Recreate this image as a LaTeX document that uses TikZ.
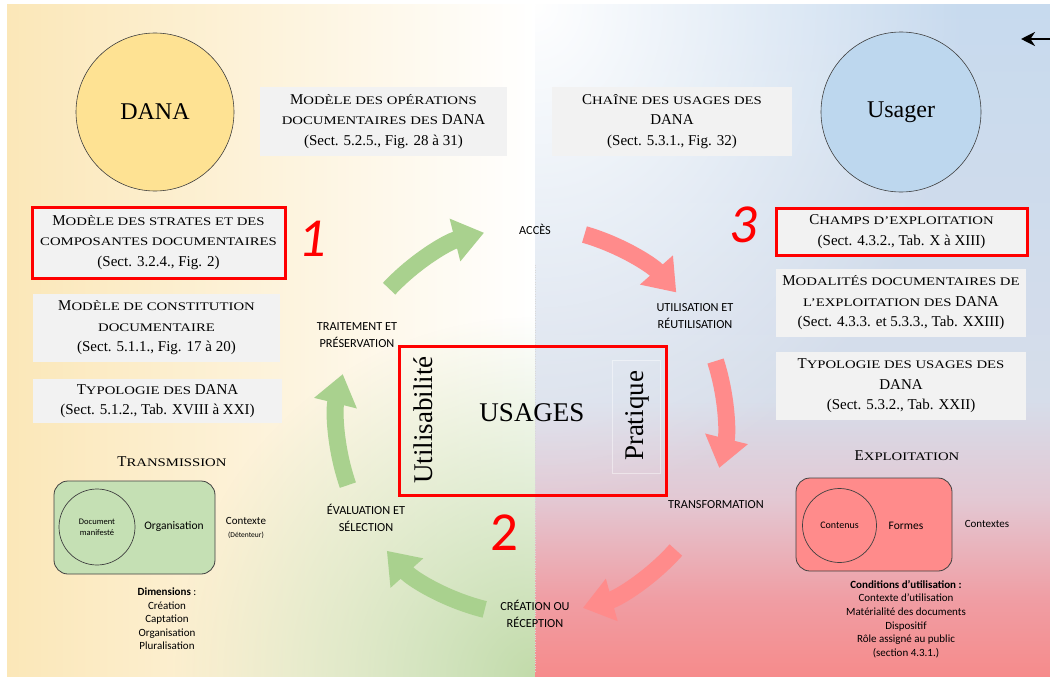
\documentclass[tikz,border=0pt]{standalone}
\usepackage{fontspec}
\usepackage{graphicx}
\setmainfont{Liberation Serif}
\newfontfamily\calib{Carlito}
\usetikzlibrary{arrows.meta,fadings,calc}

\definecolor{boxgray}{HTML}{F2F2F2}
\definecolor{hred}{HTML}{FF0000}
\definecolor{agreen}{HTML}{A9D18E}
\definecolor{ared}{HTML}{FF8B8B}
\definecolor{danayel}{HTML}{FEE293}
\definecolor{usablue}{HTML}{BDD7EE}
\definecolor{trgreen}{HTML}{C5E0B4}
\definecolor{exred}{HTML}{FF8B8B}
\definecolor{edgegray}{HTML}{404040}
\definecolor{bgyel}{HTML}{FBE7B8}
\definecolor{bggreen}{HTML}{C2DBAA}
\definecolor{bgrA}{HTML}{F68B8B}
\definecolor{bgrB}{HTML}{F09DA3}
\definecolor{bgrC}{HTML}{E3C8D3}
\definecolor{bgrD}{HTML}{D6DDEA}
\definecolor{bgrE}{HTML}{C7DAEE}

\newcommand\Sc[1]{\scalebox{1.27}[1]{\fontsize{11.6}{11.6}\selectfont #1}}

\pgfdeclareverticalshading{rightbg}{100bp}{color(0bp)=(bgrA); color(25bp)=(bgrA); color(30.7bp)=(bgrB); color(38.2bp)=(bgrC); color(45.6bp)=(bgrD); color(75bp)=(bgrE); color(100bp)=(bgrE)}

\tikzfading[name=radfadeg, inner color=transparent!0, outer color=transparent!100]
\tikzfading[name=radfadew, inner color=transparent!0, outer color=transparent!100]

\begin{document}
\begin{tikzpicture}[x=1pt,y=-1pt,
  gbox/.style={fill=boxgray, inner sep=0, align=center, font=\fontsize{15}{20.5}\selectfont},
  rbox/.style={gbox, draw=hred, line width=3},
  bigcirc/.style={circle, draw=edgegray, line width=0.6, inner sep=0, minimum size=#1, font=\fontsize{24}{24}\selectfont},
  cyc/.style={align=center, inner sep=0, font=\calib\fontsize{12.3}{17}\selectfont},
  garr/.style={draw=agreen, line width=17, -{Triangle[width=42pt,length=30pt]}},
  rarr/.style={draw=ared, line width=17, -{Triangle[width=42pt,length=30pt]}},
  num/.style={inner sep=0, text=hred},
  small/.style={inner sep=0, align=center},
  hdr/.style={inner sep=0, font=\fontsize{15}{15}\selectfont},
]
\useasboundingbox (0,0) rectangle (1050,677);

% ---------- background ----------
\shade[left color=bgyel, right color=white] (7,5) rectangle (535,677);
\begin{scope}
  \clip (7,5) rectangle (535,677);
  \fill[bggreen, path fading=radfadeg] (535,677) circle[radius=360];
\end{scope}
\shade[shading=rightbg] (535,5) rectangle (1050,677);
\begin{scope}
  \clip (535,5) rectangle (1050,677);
  \fill[white, path fading=radfadew] (535,5) ellipse[x radius=430, y radius=500];
\end{scope}
\coordinate (divtop) at (535,265);
\coordinate (divbot) at (535,672);
\draw[dotted, gray!30] (divtop) -- (divbot);

% ---------- circles ----------
\node[bigcirc=158, fill=danayel] (dana) at (155,112) {DANA};
\node[bigcirc=160, fill=usablue] (usager) at (901,112) {Usager};

% ---------- top boxes ----------
\node[gbox, minimum width=247, minimum height=69] (opdoc) at (383.5,121.5)
  {M\Sc{ODÈLE DES OPÉRATIONS}\\\Sc{DOCUMENTAIRES DES} DANA\\(Sect. 5.2.5., Fig. 28 à 31)};
\node[gbox, minimum width=240, minimum height=69] (chaine) at (672,121.5)
  {C\Sc{HAÎNE DES USAGES DES}\\DANA\\(Sect. 5.3.1., Fig. 32)};

% ---------- left boxes ----------
\node[rbox, minimum width=253, minimum height=71] (strates) at (158.5,242.5)
  {M\Sc{ODÈLE DES STRATES ET DES}\\\Sc{COMPOSANTES DOCUMENTAIRES}\\(Sect. 3.2.4., Fig. 2)};
\node[gbox, minimum width=247, minimum height=68] (constit) at (156.5,328)
  {M\Sc{ODÈLE DE CONSTITUTION}\\\Sc{DOCUMENTAIRE}\\(Sect. 5.1.1., Fig. 17 à 20)};
\node[gbox, minimum width=249, minimum height=44] (typdana) at (157.5,401)
  {T\Sc{YPOLOGIE DES} DANA\\(Sect. 5.1.2., Tab. XVIII à XXI)};

% ---------- right boxes ----------
\node[rbox, minimum width=251, minimum height=47] (champs) at (901.5,231.5)
  {C\Sc{HAMPS D’EXPLOITATION}\\(Sect. 4.3.2., Tab. X à XIII)};
\node[gbox, minimum width=250, minimum height=68] (modal) at (901,303)
  {M\Sc{ODALITÉS DOCUMENTAIRES DE}\\\Sc{L’EXPLOITATION DES} DANA\\(Sect. 4.3.3. et 5.3.3., Tab. XXIII)};
\node[gbox, minimum width=250, minimum height=68] (typus) at (901,386)
  {T\Sc{YPOLOGIE DES USAGES DES}\\DANA\\(Sect. 5.3.2., Tab. XXII)};

% ---------- numbers ----------
\node[num, font=\calib\itshape\fontsize{55}{55}\selectfont] (n1) at (312.5,238.5) {1};
\node[num, font=\calib\itshape\fontsize{55}{55}\selectfont] (n3) at (743.5,225) {3};
\node[num, font=\calib\fontsize{55}{55}\selectfont] (n2) at (504,532.5) {2};

% ---------- cycle ----------
\coordinate (cyc) at (531,421);
\draw[garr] ($(cyc)+(-137:194)$) arc[start angle=-137, end angle=-104, radius=194];
\draw[rarr] ($(cyc)+(-74:194)$) arc[start angle=-74, end angle=-41.5, radius=194];
\draw[rarr] ($(cyc)+(-18:194)$) arc[start angle=-18, end angle=14, radius=194];
\draw[rarr] ($(cyc)+(41.7:194)$) arc[start angle=41.7, end angle=74.5, radius=194];
\draw[garr] ($(cyc)+(103.8:194)$) arc[start angle=103.8, end angle=138, radius=194];
\draw[garr] ($(cyc)+(160.7:194)$) arc[start angle=160.7, end angle=194, radius=194];

\node[cyc] (acces) at (535,229) {ACCÈS};
\node[cyc] (util) at (695,316) {UTILISATION ET\\RÉUTILISATION};
\node[cyc] (trai) at (357,335) {TRAITEMENT ET\\PRÉSERVATION};
\node[cyc] (transf) at (716,505) {TRANSFORMATION};
\node[cyc] (evalu) at (366,518) {ÉVALUATION ET\\SÉLECTION};
\node[cyc] (crea) at (535,614) {CRÉATION OU\\RÉCEPTION};

% ---------- USAGES box ----------
\node[draw=hred, line width=3, minimum width=267, minimum height=149, inner sep=0] (usbox) at (532.5,420.5) {};
\node[draw=white, opacity=0.45, line width=0.6, minimum width=48, minimum height=113, inner sep=0] (pbox) at (636,416.5) {};
\node[inner sep=0, font=\fontsize{27}{27}\selectfont] (usages) at (532,412.5) {USAGES};
\node[inner sep=0, rotate=90, font=\fontsize{27}{27}\selectfont] (utilis) at (423,420) {Utilisabilité};
\node[inner sep=0, rotate=90, font=\fontsize{27}{27}\selectfont] (prat) at (637,416) {Pratique};

% ---------- Transmission ----------
\node[hdr] (transm) at (172,462) {T\Sc{RANSMISSION}};
\node[draw=edgegray, line width=0.8, fill=trgreen, rounded corners=14, minimum width=161, minimum height=93, inner sep=0] (trbox) at (134.5,527.5) {};
\node[circle, draw=edgegray, line width=0.7, fill=trgreen, minimum size=76, inner sep=0, align=center, font=\calib\fontsize{8.5}{11}\selectfont] (docm) at (97,527) {Document\\manifesté};
\node[small, font=\calib\fontsize{11.5}{12}\selectfont] (orga) at (174,527) {Organisation};
\node[small, font=\calib\fontsize{11}{13}\selectfont] (ctx) at (246,527.5) {Contexte\\{\fontsize{7.5}{9}\selectfont(Détenteur)}};
\node[small, font=\calib\fontsize{11}{13.5}\selectfont] (dims) at (167,619)
  {\textbf{Dimensions} :\\Création\\Captation\\Organisation\\Pluralisation};

% ---------- Exploitation ----------
\node[hdr] (explh) at (907,456) {E\Sc{XPLOITATION}};
\node[draw=edgegray, line width=0.8, fill=exred, rounded corners=14, minimum width=156, minimum height=93, inner sep=0] (exbox) at (874,524.5) {};
\node[circle, draw=edgegray, line width=0.7, fill=exred, minimum size=74, inner sep=0, font=\calib\fontsize{10}{12}\selectfont] (cont) at (839.5,525.5) {Contenus};
\node[small, font=\calib\fontsize{11.5}{12}\selectfont] (formes) at (906,526) {Formes};
\node[small, font=\calib\fontsize{11}{12}\selectfont] (ctxs) at (987,524) {Contextes};
\node[small, font=\calib\fontsize{11}{13.6}\selectfont] (cond) at (906,619)
  {\textbf{Conditions d’utilisation :}\\Contexte d’utilisation\\Matérialité des documents\\Dispositif\\Rôle assigné au public\\(section 4.3.1.)};

% ---------- top-right arrow ----------
\coordinate (arrfrom) at (1050,39);
\coordinate (arrto) at (1021,39);
\draw[line width=2.5, -{Stealth[length=14pt,width=14pt]}] (arrfrom) -- (arrto);
\end{tikzpicture}
\end{document}
